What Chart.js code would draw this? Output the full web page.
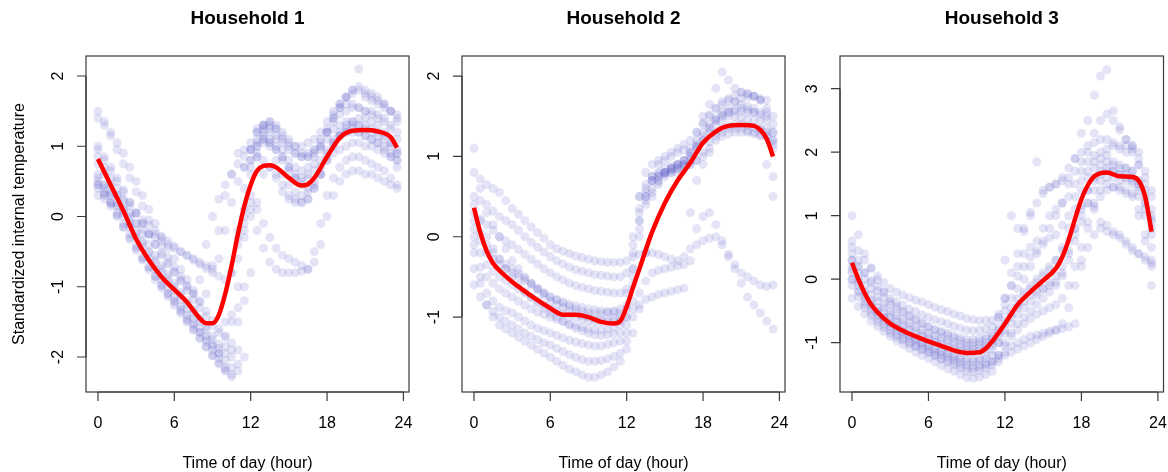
<!DOCTYPE html>
<html>
<head>
<meta charset="utf-8">
<title>Household temperatures</title>
<script src="https://cdn.jsdelivr.net/npm/chart.js@4"></script>
<style>
  html, body { margin: 0; padding: 0; background: #fff; }
  #wrap { position: relative; width: 1168px; height: 472px; }
  #wrap canvas { position: absolute; left: 0; top: 0; }
</style>
</head>
<body>
<div id="wrap">
  <canvas id="c1" width="1168" height="472"></canvas>
  <canvas id="c2" width="1168" height="472"></canvas>
  <canvas id="c3" width="1168" height="472"></canvas>
</div>
<script>
// half-hourly readings, 0h .. 23.5h
const HALF_HOURS = [0,0.5,1,1.5,2,2.5,3,3.5,4,4.5,5,5.5,6,6.5,7,7.5,8,8.5,9,9.5,10,10.5,11,11.5,
                    12,12.5,13,13.5,14,14.5,15,15.5,16,16.5,17,17.5,18,18.5,19,19.5,20,20.5,21,21.5,22,22.5,23,23.5];
const X_TICKS = [0, 6, 12, 18, 24];

const titles = ["Household 1", "Household 2", "Household 3"];
const yTicks1 = [-2, -1, 0, 1, 2];
const yTicks2 = [-1, 0, 1, 2];
const yTicks3 = [-1, 0, 1, 2, 3];

// Household 1 - one row per day
const household1 = [
  [0.95,0.8,0.65,0.5,0.35,0.2,0.05,-0.1,-0.25,-0.4,-0.55,-0.68,-0.8,-0.92,-1.05,-1.18,-1.3,-1.42,-1.55,-1.65,-1.7,-1.5,-0.6,0.4,0.95,1.25,1.3,1.25,1.15,1.05,0.95,0.9,0.85,0.9,0.95,1.05,1.2,1.35,1.45,1.5,1.55,1.55,1.5,1.5,1.45,1.4,1.3,1.2],
  [0.5,0.35,0.2,0.05,-0.1,-0.25,-0.42,-0.58,-0.72,-0.85,-0.98,-1.1,-1.22,-1.35,-1.48,-1.6,-1.72,-1.85,-1.98,-2.1,-2.2,-2.15,-1.5,-0.3,0.7,1.0,1.1,1.05,0.95,0.8,0.65,0.55,0.5,0.55,0.65,0.8,0.95,1.1,1.2,1.3,1.35,1.4,1.4,1.35,1.3,1.2,1.05,0.9],
  [0.75,0.6,0.45,0.3,0.12,-0.03,-0.2,-0.35,-0.5,-0.62,-0.75,-0.87,-1.0,-1.12,-1.25,-1.38,-1.5,-1.62,-1.75,-1.88,-1.95,-2.0,-1.9,-1.0,0.3,0.85,1.05,1.1,1.0,0.85,0.7,0.6,0.55,0.6,0.75,0.95,1.1,1.25,1.3,1.35,1.35,1.3,1.3,1.25,1.2,1.15,1.05,0.95],
  [1.4,1.3,1.2,1.05,0.9,0.7,0.5,0.3,0.1,-0.1,-0.3,-0.45,-0.6,-0.75,-0.9,-1.05,-1.2,-1.1,-0.7,-0.2,0.3,0.6,0.9,0.95,0.95,1.2,1.3,1.35,1.3,1.2,1.1,1.0,0.9,0.85,0.9,1.0,1.2,1.4,1.6,1.7,1.8,2.1,1.7,1.65,1.6,1.55,1.5,1.45],
  [0.45,0.4,0.35,0.3,0.25,0.15,0.05,-0.05,-0.12,-0.2,-0.28,-0.35,-0.42,-0.5,-0.56,-0.62,-0.68,-0.74,-0.8,-0.85,-0.9,-0.8,-0.4,0.0,0.2,0.1,-0.1,-0.3,-0.45,-0.55,-0.6,-0.65,-0.7,-0.75,-0.65,-0.4,0.0,0.3,0.5,0.6,0.65,0.65,0.6,0.6,0.55,0.5,0.45,0.4],
  [0.3,0.25,0.2,0.15,0.1,0.0,-0.1,-0.18,-0.25,-0.3,-0.35,-0.4,-0.45,-0.5,-0.55,-0.6,-0.65,-0.7,-0.75,-0.6,-0.2,0.2,0.5,0.7,0.8,0.85,0.8,0.7,0.55,0.35,0.25,0.2,0.2,0.25,0.4,0.6,0.8,0.9,0.95,1.0,1.05,1.05,1.0,1.0,0.95,0.9,0.85,0.8],
  [0.6,0.45,0.3,0.15,0.0,-0.15,-0.3,-0.45,-0.6,-0.75,-0.9,-1.02,-1.15,-1.28,-1.4,-1.52,-1.65,-1.78,-1.9,-2.02,-2.15,-2.25,-2.2,-2.0,-0.8,0.2,0.6,0.7,0.6,0.45,0.3,0.25,0.2,0.25,0.4,0.6,0.85,1.05,1.15,1.2,1.25,1.2,1.15,1.1,1.05,1.0,0.9,0.8],
  [1.5,1.35,1.15,0.95,0.75,0.55,0.35,0.15,-0.05,-0.25,-0.42,-0.58,-0.72,-0.85,-0.98,-1.1,-1.22,-1.35,-1.48,-1.6,-1.72,-1.8,-1.3,-0.2,0.6,1.0,1.2,1.3,1.25,1.15,1.05,1.0,1.0,1.05,1.1,1.2,1.35,1.5,1.6,1.7,1.75,1.8,1.75,1.7,1.65,1.6,1.5,1.4],
  [0.4,0.3,0.15,0.0,-0.15,-0.3,-0.45,-0.6,-0.72,-0.85,-0.98,-1.1,-1.2,-1.32,-1.45,-1.55,-1.65,-1.75,-1.85,-1.95,-2.05,-1.9,-1.0,0.1,0.8,1.1,1.25,1.2,1.1,0.95,0.8,0.7,0.65,0.7,0.85,1.0,1.2,1.4,1.55,1.7,1.8,1.85,1.8,1.75,1.7,1.6,1.5,1.35],
  [1.0,0.85,0.7,0.55,0.38,0.2,0.05,-0.1,-0.25,-0.4,-0.52,-0.65,-0.78,-0.9,-1.0,-1.1,-0.9,-0.4,0.0,0.25,0.45,0.6,0.75,0.85,0.95,1.05,1.1,1.05,0.95,0.85,0.7,0.55,0.45,0.4,0.45,0.6,0.8,1.0,1.15,1.25,1.3,1.3,1.25,1.2,1.15,1.1,1.0,0.9],
  [0.55,0.45,0.32,0.2,0.05,-0.1,-0.25,-0.38,-0.52,-0.66,-0.8,-0.92,-1.05,-1.18,-1.32,-1.45,-1.58,-1.7,-1.82,-1.95,-1.85,-1.4,-0.2,0.7,1.05,1.2,1.15,1.0,0.8,0.6,0.45,0.35,0.3,0.35,0.5,0.7,0.9,1.05,1.15,1.2,1.2,1.2,1.15,1.1,1.05,0.95,0.85,0.7],
  [0.85,0.7,0.55,0.4,0.22,0.05,-0.1,-0.25,-0.4,-0.55,-0.7,-0.82,-0.95,-1.08,-1.2,-1.32,-1.45,-1.57,-1.7,-1.82,-1.5,-0.8,-0.3,-0.1,0.0,-0.2,-0.45,-0.65,-0.75,-0.8,-0.8,-0.8,-0.78,-0.75,-0.5,-0.1,0.3,0.55,0.7,0.8,0.85,0.85,0.8,0.75,0.7,0.65,0.55,0.45],
  [0.45,0.32,0.18,0.02,-0.15,-0.32,-0.48,-0.62,-0.76,-0.9,-1.02,-1.14,-1.26,-1.38,-1.5,-1.62,-1.74,-1.86,-1.98,-2.08,-2.18,-2.28,-2.1,-1.2,0.1,0.9,1.3,1.35,1.25,1.1,1.0,0.9,0.85,0.85,0.95,1.1,1.25,1.45,1.55,1.6,1.6,1.55,1.5,1.45,1.4,1.35,1.25,1.1]
];

// Household 2 - one row per day
const household2 = [
  [0.8,0.72,0.65,0.6,0.55,0.45,0.35,0.28,0.2,0.12,0.05,-0.02,-0.1,-0.15,-0.18,-0.21,-0.24,-0.26,-0.28,-0.3,-0.31,-0.32,-0.32,-0.32,-0.3,-0.25,-0.22,-0.2,-0.2,-0.22,-0.25,-0.28,-0.3,-0.25,-0.15,-0.1,-0.05,-0.02,0.0,-0.1,-0.25,-0.35,-0.45,-0.5,-0.55,-0.6,-0.62,-0.6],
  [0.5,0.45,0.4,0.32,0.25,0.2,0.15,0.08,0.0,-0.07,-0.13,-0.19,-0.25,-0.3,-0.34,-0.38,-0.41,-0.43,-0.45,-0.47,-0.48,-0.49,-0.5,-0.5,-0.45,-0.1,0.5,0.8,0.9,0.95,1.0,1.05,1.1,1.15,1.2,1.3,1.42,1.52,1.6,1.68,1.72,1.76,1.8,1.78,1.75,1.7,1.6,1.4],
  [0.3,0.22,0.15,0.08,0.0,-0.05,-0.1,-0.16,-0.22,-0.28,-0.34,-0.4,-0.45,-0.5,-0.54,-0.58,-0.61,-0.63,-0.65,-0.67,-0.68,-0.69,-0.7,-0.7,-0.65,-0.4,0.0,0.5,0.7,0.75,0.8,0.85,0.9,0.95,1.0,1.12,1.25,1.35,1.45,1.5,1.55,1.58,1.6,1.58,1.55,1.52,1.45,1.3],
  [0.1,-0.05,-0.2,-0.28,-0.35,-0.4,-0.45,-0.5,-0.55,-0.6,-0.65,-0.7,-0.75,-0.78,-0.81,-0.84,-0.86,-0.88,-0.9,-0.91,-0.92,-0.93,-0.94,-0.95,-0.9,-0.2,0.5,0.65,0.75,0.78,0.8,0.82,0.85,0.9,1.0,1.15,1.3,1.4,1.48,1.52,1.55,1.56,1.56,1.55,1.55,1.45,1.35,1.2],
  [0.0,-0.2,-0.35,-0.43,-0.5,-0.55,-0.6,-0.65,-0.7,-0.75,-0.8,-0.85,-0.9,-0.93,-0.96,-0.99,-1.01,-1.03,-1.05,-1.06,-1.06,-1.06,-1.05,-1.05,-1.0,-0.6,0.2,0.4,0.6,0.7,0.8,0.85,0.88,0.9,0.9,0.95,1.05,1.18,1.3,1.35,1.38,1.4,1.4,1.38,1.36,1.33,1.3,0.75],
  [-0.2,-0.38,-0.5,-0.58,-0.65,-0.7,-0.75,-0.8,-0.85,-0.9,-0.94,-0.97,-1.0,-1.03,-1.06,-1.09,-1.11,-1.13,-1.15,-1.16,-1.16,-1.15,-1.13,-1.1,-1.0,-0.4,0.3,0.55,0.7,0.8,0.85,0.88,0.9,0.95,1.05,1.12,1.2,1.3,1.4,1.45,1.5,1.5,1.48,1.46,1.45,1.35,1.25,1.1],
  [0.4,0.2,0.0,-0.15,-0.28,-0.4,-0.5,-0.6,-0.68,-0.76,-0.83,-0.89,-0.95,-1.0,-1.05,-1.1,-1.14,-1.17,-1.2,-1.22,-1.23,-1.22,-1.21,-1.2,-1.1,-0.9,-0.7,-0.55,-0.45,-0.42,-0.4,-0.38,-0.36,-0.35,0.3,0.7,0.9,1.05,1.2,1.25,1.28,1.3,1.3,1.3,1.28,1.27,1.25,1.15],
  [-0.4,-0.58,-0.7,-0.8,-0.88,-0.92,-0.95,-1.0,-1.05,-1.1,-1.14,-1.17,-1.2,-1.23,-1.26,-1.29,-1.31,-1.33,-1.35,-1.36,-1.36,-1.34,-1.32,-1.3,-1.2,-1.0,-0.85,-0.78,-0.75,-0.72,-0.7,-0.68,-0.66,-0.64,-0.3,0.1,0.25,0.3,0.15,-0.05,-0.22,-0.4,-0.58,-0.75,-0.85,-0.95,-1.05,-1.15],
  [-0.6,-0.75,-0.85,-0.93,-1.0,-1.05,-1.1,-1.15,-1.2,-1.24,-1.28,-1.32,-1.35,-1.39,-1.43,-1.47,-1.5,-1.53,-1.55,-1.55,-1.54,-1.52,-1.49,-1.45,-1.3,-0.8,0.2,0.45,0.55,0.68,0.8,0.85,0.9,0.95,1.05,1.12,1.2,1.35,1.45,1.55,1.6,1.68,1.72,1.74,1.75,1.7,1.55,1.3],
  [0.2,0.05,-0.1,-0.2,-0.28,-0.34,-0.4,-0.46,-0.52,-0.58,-0.64,-0.7,-0.75,-0.79,-0.83,-0.87,-0.9,-0.93,-0.95,-0.96,-0.96,-0.94,-0.92,-0.9,-0.7,0.0,0.35,0.6,0.75,0.9,0.95,1.0,1.05,1.08,1.1,1.3,1.5,1.65,1.85,2.05,1.95,1.85,1.8,1.78,1.75,1.72,1.7,1.5],
  [1.1,0.6,0.3,0.15,0.0,-0.15,-0.3,-0.4,-0.5,-0.58,-0.66,-0.73,-0.8,-0.84,-0.88,-0.92,-0.95,-0.98,-1.0,-1.02,-1.03,-1.02,-1.01,-1.0,-0.85,-0.5,0.1,0.5,0.7,0.75,0.78,0.8,0.8,0.85,0.95,1.2,1.4,1.5,1.6,1.65,1.7,1.68,1.65,1.62,1.6,1.55,1.5,1.2],
  [-0.1,-0.5,-0.85,-1.0,-1.1,-1.15,-1.2,-1.25,-1.3,-1.35,-1.4,-1.45,-1.5,-1.55,-1.6,-1.65,-1.68,-1.72,-1.75,-1.75,-1.72,-1.68,-1.62,-1.55,-1.4,-1.2,-0.9,-0.2,0.5,0.65,0.75,0.8,0.85,0.88,0.9,0.95,1.0,1.1,1.25,1.3,1.35,1.35,1.35,1.32,1.3,1.25,0.9,0.5]
];

// Household 3 - one row per day
const household3 = [
  [0.6,0.45,0.3,0.17,0.05,-0.05,-0.15,-0.2,-0.25,-0.29,-0.33,-0.36,-0.4,-0.44,-0.48,-0.51,-0.55,-0.58,-0.62,-0.64,-0.65,-0.65,-0.65,-0.55,-0.3,0.1,0.4,0.75,1.0,1.2,1.35,1.45,1.5,1.6,1.75,1.9,2.0,2.1,2.15,2.2,2.2,2.15,2.1,2.1,2.05,1.9,1.6,1.3],
  [0.3,0.2,0.1,-0.02,-0.12,-0.21,-0.3,-0.36,-0.41,-0.47,-0.51,-0.56,-0.6,-0.64,-0.67,-0.7,-0.74,-0.77,-0.8,-0.81,-0.8,-0.78,-0.75,-0.6,-0.4,-0.1,0.2,0.4,0.5,0.6,0.8,1.0,1.1,1.2,1.3,1.5,1.7,1.85,1.95,2.0,2.05,2.1,2.05,2.0,2.0,1.8,1.5,1.1],
  [0.2,0.0,-0.2,-0.33,-0.45,-0.53,-0.6,-0.67,-0.74,-0.8,-0.86,-0.9,-0.95,-0.99,-1.03,-1.07,-1.1,-1.13,-1.15,-1.15,-1.13,-1.1,-1.05,-0.9,-0.7,-0.55,-0.4,-0.25,-0.15,-0.05,0.05,0.15,0.3,0.5,0.8,1.1,1.4,1.6,1.75,1.8,1.85,1.8,1.75,1.75,1.7,1.5,1.2,0.9],
  [0.0,-0.2,-0.4,-0.52,-0.62,-0.71,-0.8,-0.87,-0.93,-0.99,-1.05,-1.1,-1.15,-1.2,-1.24,-1.28,-1.32,-1.36,-1.4,-1.41,-1.39,-1.35,-1.3,-1.2,-1.0,-0.85,-0.7,-0.6,-0.5,-0.4,-0.3,-0.2,-0.1,0.1,0.4,0.7,1.1,1.4,1.6,1.7,1.75,1.7,1.65,1.6,1.55,1.3,1.0,0.7],
  [-0.3,-0.43,-0.55,-0.66,-0.74,-0.82,-0.9,-0.97,-1.03,-1.09,-1.15,-1.2,-1.25,-1.3,-1.36,-1.41,-1.45,-1.5,-1.55,-1.56,-1.54,-1.5,-1.45,-1.3,-1.15,-1.05,-1.0,-0.95,-0.9,-0.88,-0.85,-0.82,-0.8,-0.78,-0.75,-0.7,0.3,0.8,1.1,1.3,1.4,1.45,1.45,1.4,1.35,1.0,0.6,0.3],
  [0.4,0.2,0.0,-0.15,-0.28,-0.39,-0.5,-0.57,-0.63,-0.69,-0.75,-0.8,-0.85,-0.89,-0.92,-0.95,-0.99,-1.02,-1.05,-1.05,-1.03,-1.0,-0.95,-0.75,-0.5,-0.3,-0.15,0.0,0.2,0.4,0.6,0.8,1.0,1.2,1.5,1.9,2.3,2.5,2.9,3.2,3.3,2.65,2.4,2.2,2.1,1.8,1.4,1.0],
  [0.1,-0.1,-0.3,-0.42,-0.52,-0.61,-0.7,-0.77,-0.83,-0.89,-0.95,-1.0,-1.05,-1.1,-1.14,-1.18,-1.22,-1.26,-1.3,-1.3,-1.28,-1.25,-1.2,-1.0,-0.8,-0.6,-0.45,-0.35,-0.25,-0.2,-0.15,-0.1,-0.05,0.05,0.3,0.6,0.9,1.2,1.4,1.55,1.6,1.6,1.55,1.55,1.5,1.4,1.1,0.5],
  [0.0,-0.18,-0.35,-0.47,-0.57,-0.66,-0.75,-0.82,-0.88,-0.94,-1.0,-1.05,-1.1,-1.15,-1.19,-1.23,-1.27,-1.31,-1.35,-1.36,-1.35,-1.33,-1.3,-1.25,-1.2,-1.15,-1.1,-1.05,-1.0,-0.95,-0.9,-0.85,-0.8,-0.7,-0.45,-0.1,0.2,0.5,0.7,0.8,0.85,0.75,0.7,0.6,0.5,0.4,0.3,0.2],
  [1.0,0.7,0.4,0.18,-0.01,-0.19,-0.35,-0.43,-0.5,-0.57,-0.63,-0.69,-0.75,-0.8,-0.84,-0.88,-0.92,-0.96,-1.0,-1.0,-0.98,-0.95,-0.9,-0.8,0.3,1.0,0.8,0.8,1.05,1.85,1.4,1.45,1.5,1.55,1.6,1.7,1.85,2.0,2.3,2.5,2.6,2.5,2.35,2.2,2.1,2.0,1.7,1.4],
  [0.5,0.3,0.1,-0.05,-0.18,-0.29,-0.4,-0.47,-0.53,-0.59,-0.65,-0.7,-0.75,-0.79,-0.82,-0.85,-0.89,-0.92,-0.95,-0.95,-0.93,-0.9,-0.85,-0.6,-0.3,-0.1,0.05,0.2,0.35,0.45,0.55,0.65,0.7,0.85,1.0,1.3,1.55,1.7,1.85,1.9,1.95,1.85,1.8,1.75,1.7,1.55,1.3,0.95],
  [-0.1,-0.28,-0.45,-0.57,-0.67,-0.76,-0.85,-0.91,-0.96,-1.02,-1.06,-1.11,-1.15,-1.2,-1.26,-1.31,-1.35,-1.4,-1.45,-1.46,-1.44,-1.4,-1.35,-1.2,-1.05,-0.9,-0.8,-0.7,-0.62,-0.55,-0.5,-0.45,-0.4,-0.3,-0.1,0.2,0.5,0.9,1.2,1.4,1.5,1.45,1.4,1.35,1.3,1.1,0.7,0.25],
  [0.3,0.1,-0.1,-0.24,-0.35,-0.45,-0.55,-0.62,-0.68,-0.74,-0.8,-0.85,-0.9,-0.94,-0.97,-1.0,-1.04,-1.07,-1.1,-1.1,-1.08,-1.05,-1.0,-0.85,-0.65,-0.45,-0.3,-0.2,-0.1,0.0,0.1,0.2,0.3,0.45,0.6,0.8,1.0,1.2,1.15,0.9,0.75,0.7,0.65,0.55,0.45,0.4,0.35,-0.1],
  [0.15,-0.05,-0.25,-0.38,-0.5,-0.6,-0.68,-0.75,-0.82,-0.88,-0.93,-0.98,-1.02,-1.07,-1.12,-1.16,-1.2,-1.23,-1.25,-1.26,-1.25,-1.2,-1.12,-1.0,-0.85,-0.7,-0.55,-0.45,-0.35,-0.25,-0.15,-0.05,0.05,0.2,0.45,0.8,1.15,1.4,1.55,1.65,1.7,1.7,1.65,1.65,1.6,1.45,1.2,0.8]
];

// smoothed mean (red) per household
const smoothHours1 = [0,1,2,3,4,5,6,7,8,8.5,9,9.5,10,10.5,11,11.5,12,12.5,13,13.5,14,15,16,16.5,17,18,19,20,21,22,23,23.5];
const smooth1 = [0.82,0.45,0.08,-0.32,-0.62,-0.86,-1.04,-1.22,-1.45,-1.52,-1.52,-1.4,-1.1,-0.7,-0.25,0.15,0.45,0.65,0.72,0.73,0.7,0.55,0.44,0.46,0.55,0.85,1.12,1.22,1.23,1.21,1.13,0.98];
const smoothHours2 = [0,0.5,1,1.5,2,3,4,5,6,7,8,9,10,11,11.5,12,12.5,13,14,15,16,17,18,19,20,21,22,22.5,23,23.5];
const smooth2 = [0.36,0.05,-0.18,-0.33,-0.42,-0.56,-0.68,-0.79,-0.89,-0.97,-0.97,-1.0,-1.06,-1.08,-1.05,-0.87,-0.63,-0.4,0.06,0.42,0.7,0.92,1.17,1.31,1.38,1.39,1.38,1.33,1.22,1.0];
const smoothHours3 = [0,0.5,1,1.5,2,3,4,5,6,7,8,9,10,10.5,11,12,13,14,15,16,16.5,17,17.5,18,18.5,19,19.5,20,21,22,22.5,23,23.5];
const smooth3 = [0.26,0.0,-0.22,-0.4,-0.52,-0.7,-0.81,-0.9,-0.98,-1.05,-1.12,-1.16,-1.15,-1.09,-0.98,-0.7,-0.4,-0.2,-0.02,0.17,0.35,0.62,0.95,1.26,1.48,1.62,1.67,1.68,1.62,1.61,1.55,1.3,0.75];

const FONT = "'Liberation Sans', Arial, sans-serif";

// R-style frame, ticks and labels drawn on the library's scales
const rFrame = {
  id: "rFrame",
  afterDraw(chart, args, opts) {
    const ctx = chart.ctx;
    const a = chart.chartArea;
    const xs = chart.scales.x, ys = chart.scales.y;
    ctx.save();
    ctx.strokeStyle = "#3a3a3a";
    ctx.lineWidth = 1.2;
    ctx.strokeRect(a.left, a.top, a.right - a.left, a.bottom - a.top);

    ctx.beginPath();
    const xa = xs.getPixelForValue(X_TICKS[0]);
    const xb = xs.getPixelForValue(X_TICKS[X_TICKS.length - 1]);
    ctx.moveTo(xa, a.bottom); ctx.lineTo(xb, a.bottom);
    X_TICKS.forEach(t => {
      const px = xs.getPixelForValue(t);
      ctx.moveTo(px, a.bottom); ctx.lineTo(px, a.bottom + 9);
    });
    const ya = ys.getPixelForValue(opts.yTicks[0]);
    const yb = ys.getPixelForValue(opts.yTicks[opts.yTicks.length - 1]);
    ctx.moveTo(a.left, ya); ctx.lineTo(a.left, yb);
    opts.yTicks.forEach(t => {
      const py = ys.getPixelForValue(t);
      ctx.moveTo(a.left, py); ctx.lineTo(a.left - 9, py);
    });
    ctx.stroke();

    ctx.fillStyle = "#000";
    ctx.font = "16px " + FONT;
    ctx.textAlign = "center";
    ctx.textBaseline = "alphabetic";
    X_TICKS.forEach(t => ctx.fillText(String(t), xs.getPixelForValue(t), 428));
    opts.yTicks.forEach(t => {
      ctx.save();
      ctx.translate(a.left - 23, ys.getPixelForValue(t));
      ctx.rotate(-Math.PI / 2);
      ctx.fillText(String(t), 0, 0);
      ctx.restore();
    });

    const cx = (a.left + a.right) / 2;
    ctx.fillText("Time of day (hour)", cx, 468);
    if (opts.yTitle) {
      ctx.save();
      ctx.translate(23.5, (a.top + a.bottom) / 2);
      ctx.rotate(-Math.PI / 2);
      ctx.fillText(opts.yTitle, 0, 0);
      ctx.restore();
    }
    ctx.font = "bold 19px " + FONT;
    ctx.fillText(opts.title, cx, 24);
    ctx.restore();
  }
};

function makePanel(id, days, sHours, sVals, area, yMin, yMax, yTicks, title, yTitle) {
  const dots = days.flatMap(d => d.map((v, i) => ({ x: HALF_HOURS[i], y: v })));
  const smooth = sHours.map((h, i) => ({ x: h, y: sVals[i] }));
  new Chart(document.getElementById(id), {
    type: "scatter",
    data: {
      datasets: [
        {
          type: "line",
          data: smooth,
          borderColor: "#ff0000",
          borderWidth: 4.5,
          pointRadius: 0,
          cubicInterpolationMode: "monotone",
          fill: false,
          order: 0
        },
        {
          data: dots,
          pointRadius: 4.5,
          pointBorderWidth: 0,
          pointBackgroundColor: "rgba(95,95,200,0.17)",
          pointHoverRadius: 0,
          order: 1
        }
      ]
    },
    options: {
      responsive: false,
      animation: false,
      events: [],
      layout: {
        padding: { left: area[0], right: 1168 - area[1], top: area[2], bottom: 472 - area[3] }
      },
      scales: {
        x: { type: "linear", min: -0.94, max: 24.44, display: false },
        y: { type: "linear", min: yMin, max: yMax, display: false }
      },
      plugins: {
        legend: { display: false },
        tooltip: { enabled: false },
        rFrame: { yTicks: yTicks, title: title, yTitle: yTitle }
      }
    },
    plugins: [rFrame]
  });
}

makePanel("c1", household1, smoothHours1, smooth1, [86, 409, 56, 392], -2.498, 2.285, yTicks1, titles[0], "Standardized internal temperature");
makePanel("c2", household2, smoothHours2, smooth2, [462, 785, 56, 392], -1.933, 2.25, yTicks2, titles[1], null);
makePanel("c3", household3, smoothHours3, smooth3, [840, 1164, 56, 392], -1.776, 3.515, yTicks3, titles[2], null);
</script>
</body>
</html>
